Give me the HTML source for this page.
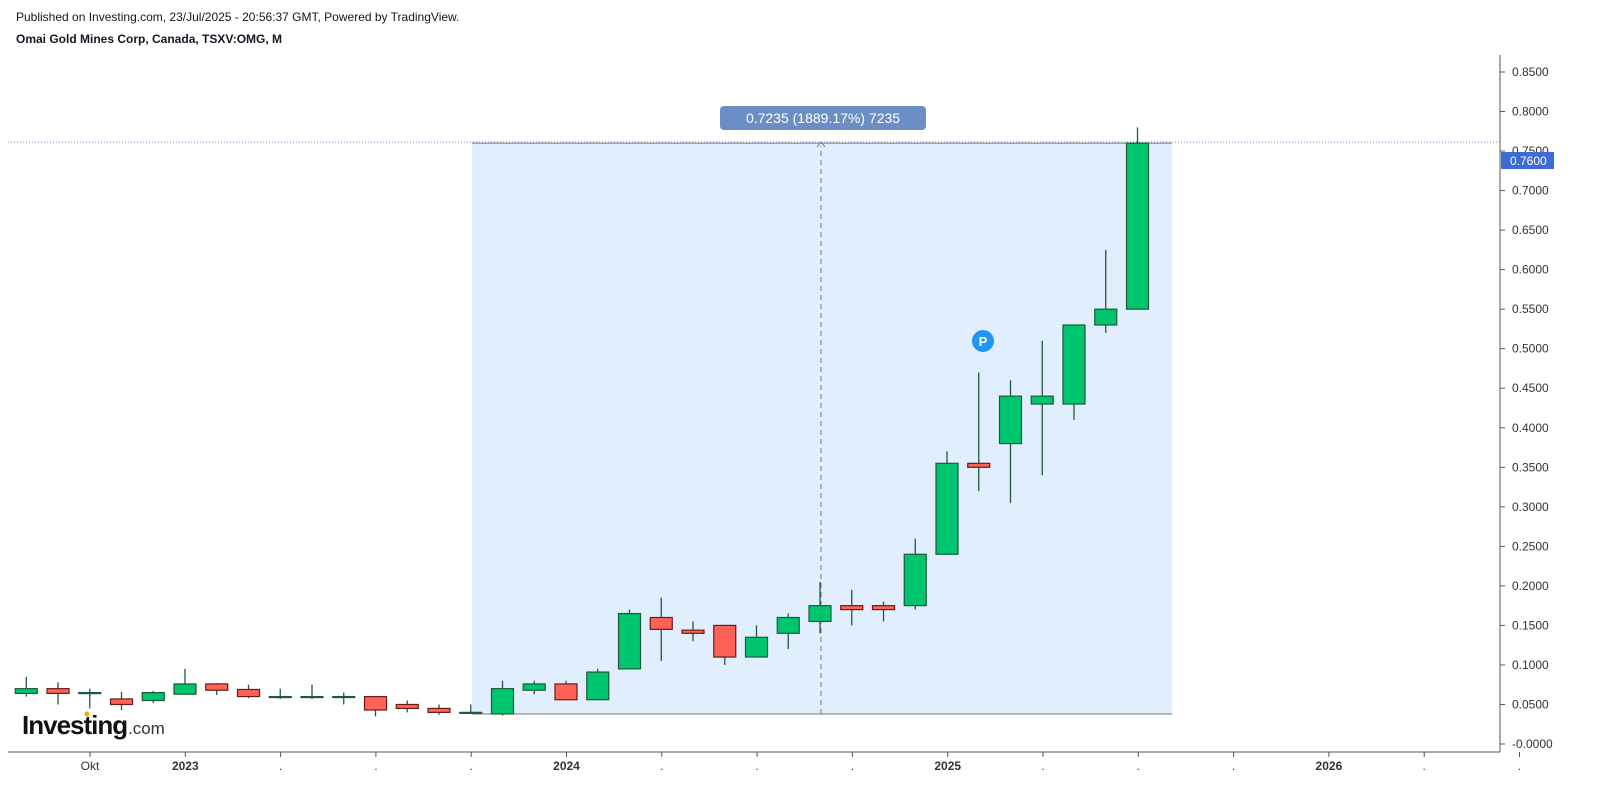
<!DOCTYPE html>
<html><head><meta charset="utf-8"><style>
body{margin:0;background:#fff;font-family:"Liberation Sans",sans-serif;}
#wrap{position:relative;width:1615px;height:803px;overflow:hidden}
.t{position:absolute;font-size:12px;color:#131722}
</style></head><body><div id="wrap">
<div class="t" style="left:16px;top:10px">Published on Investing.com, 23/Jul/2025 - 20:56:37 GMT, Powered by TradingView.</div>
<div class="t" style="left:16px;top:32px;font-weight:bold">Omai Gold Mines Corp, Canada, TSXV:OMG, M</div>
<svg id="svg" width="1615" height="803" style="position:absolute;left:0;top:0"></svg>
</div>
<script>
const months=["Aug22","Sep22","Oct22","Nov22","Dec22","Jan23","Feb23","Mar23","Apr23","May23","Jun23","Jul23","Aug23","Sep23","Oct23","Nov23","Dec23","Jan24","Feb24","Mar24","Apr24","May24","Jun24","Jul24","Aug24","Sep24","Oct24","Nov24","Dec24","Jan25","Feb25","Mar25","Apr25","May25","Jun25","Jul25"];
const opens=[.064,.07,.065,.057,.055,.063,.076,.069,.06,.06,.06,.06,.05,.045,.04,.038,.068,.076,.056,.095,.16,.144,.15,.11,.14,.155,.175,.175,.175,.24,.355,.38,.43,.43,.53,.55];
const highs=[.085,.078,.07,.066,.067,.095,.077,.075,.07,.075,.065,.06,.055,.05,.05,.08,.08,.08,.095,.17,.185,.155,.15,.15,.165,.205,.195,.18,.26,.37,.47,.46,.51,.53,.625,.78];
const lows=[.06,.05,.045,.043,.052,.063,.062,.058,.057,.057,.05,.035,.04,.037,.038,.036,.063,.056,.056,.095,.105,.13,.10,.11,.12,.14,.15,.155,.17,.24,.32,.305,.34,.41,.52,.55];
const closes=[.07,.064,.065,.05,.065,.076,.068,.06,.06,.06,.06,.043,.045,.04,.04,.07,.076,.056,.091,.165,.145,.14,.11,.135,.16,.175,.17,.17,.24,.355,.35,.44,.44,.53,.55,.76];
const yTicks=[0,.05,.1,.15,.2,.25,.3,.35,.4,.45,.5,.55,.6,.65,.7,.75,.8,.85];
const xTickLabels=["Okt","2023",".",".",".","2024",".",".",".","2025",".",".",".","2026",".","."];
const NS="http://www.w3.org/2000/svg";
const svg=document.getElementById('svg');
const y=v=>744-v*790.6;
const x=i=>185+(i-5)*31.75;
function el(t,a,p){const e=document.createElementNS(NS,t);for(const k in a)e.setAttribute(k,a[k]);(p||svg).appendChild(e);return e;}
let e;
e=el('rect',{x:472,y:y(.76),width:700,height:y(.038)-y(.76),fill:'#e1eefd'});


el('line',{x1:472,x2:1172,y1:y(.76),y2:y(.76),stroke:'#777'});
el('line',{x1:472,x2:1172,y1:y(.038),y2:y(.038),stroke:'#777'});
el('line',{x1:8,x2:1500,y1:142,y2:142,stroke:'#5b8def','stroke-dasharray':'1,2'});
e=el('line',{x1:821,x2:821,y1:y(.038),y2:146,stroke:'#777','stroke-dasharray':'5,4'});


el('path',{d:'M817,147 L821,142 L825,147',stroke:'#777',fill:'none'});
el('line',{x1:1500,x2:1500,y1:55,y2:752,stroke:'#555'});
el('line',{x1:8,x2:1500,y1:752,y2:752,stroke:'#555'});
yTicks.forEach(v=>{el('line',{x1:1500,x2:1505,y1:y(v),y2:y(v),stroke:'#555'});
 e=el('text',{x:1512,y:y(v)+4,'font-size':12,fill:'#333','font-family':'Liberation Sans'});e.textContent=v===0?'-0.0000':v.toFixed(4);
 
 });
xTickLabels.forEach((l,k)=>{const xx=90+k*95.3;el('line',{x1:xx,x2:xx,y1:752,y2:757,stroke:'#555'});
 e=el('text',{x:xx,y:770,'font-size':12,fill:'#333','text-anchor':'middle','font-weight':/^\d/.test(l)?'bold':'normal','font-family':'Liberation Sans'});e.textContent=l;
 
 });
months.forEach((m,i)=>{const o=opens[i],c=closes[i],up=c>=o,cx=x(i);
 const g=el('g',{});
 
 
 el('line',{x1:cx,x2:cx,y1:y(highs[i]),y2:y(lows[i]),stroke:'#1e5a3a','stroke-width':1.3},g);
 const top=y(Math.max(o,c)),h=Math.max(1,Math.abs(y(o)-y(c)));
 el('rect',{x:cx-11,y:top,width:22,height:h,fill:up?'#00c56f':'#ff6358',stroke:up?'#1e5a3a':'#6b1b17','stroke-width':1.2},g);});
e=el('rect',{x:720,y:106,width:206,height:24,rx:4,fill:'#6b8fc4'});


e=el('text',{x:823,y:123,'font-size':14,fill:'#fff','text-anchor':'middle','font-family':'Liberation Sans'});e.textContent='0.7235 (1889.17%) 7235';


e=el('rect',{x:1501,y:152,width:53,height:17,fill:'#3f6bd9'});


e=el('text',{x:1510,y:165,'font-size':12,fill:'#fff','font-family':'Liberation Sans'});e.textContent='0.7600';


e=el('circle',{cx:983,cy:341,r:11,fill:'#2196f3'});


e=el('text',{x:983,y:346,'font-size':13,'font-weight':'bold',fill:'#fff','text-anchor':'middle','font-family':'Liberation Sans'});e.textContent='P';
e=el('text',{x:22,y:734,'font-size':26,'font-weight':'bold',fill:'#111','font-family':'Liberation Sans','letter-spacing':'-1'});e.textContent='Investing';


e=el('text',{x:128,y:734,'font-size':17,fill:'#333','font-family':'Liberation Sans'});e.textContent='.com';
el('circle',{cx:87,cy:714,r:2.5,fill:'#f7a800'});
</script></body></html>
